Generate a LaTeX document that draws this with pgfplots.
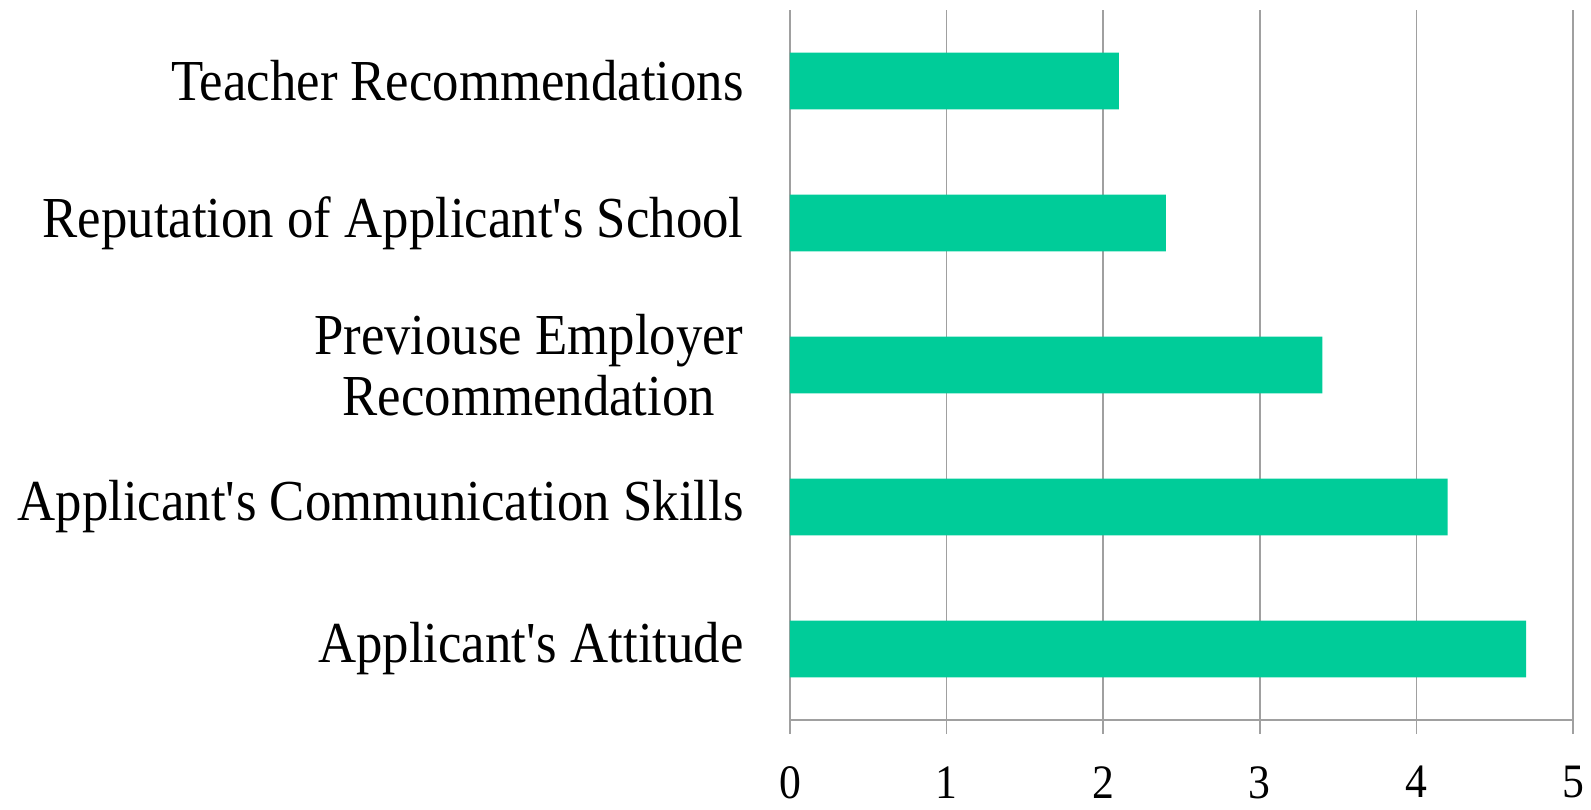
\documentclass[border=0pt]{standalone}
\usepackage{fontspec}
\setmainfont{Liberation Serif}[FakeStretch=0.91]
\usepackage{pgfplots}
\pgfplotsset{compat=1.18}
\definecolor{barc}{RGB}{0,204,153}
\definecolor{gridc}{RGB}{160,160,160}
\newcommand{\ap}{\textquotesingle}
\begin{document}
\begin{tikzpicture}
\begin{axis}[
  at={(0,0)}, anchor=south west,
  scale only axis,
  width=391.5pt, height=355pt,
  xmin=0, xmax=5, ymin=-0.5, ymax=4.5,
  xbar, bar width=0.4,
  axis lines*=left,
  axis line style={gridc, line width=0.8pt, -},
  xtick={0,1,2,3,4,5},
  xmajorgrids, grid style={gridc, line width=0.8pt},
  ytick={0,1,2,3,4},
  yticklabels={{Applicant\ap s Attitude},{Applicant\ap s Communication Skills},{Previouse Employer\\Recommendation},{Reputation of Applicant\ap s School},{Teacher Recommendations}},
  minor ytick={-0.5,0.5,1.5,2.5,3.5,4.5},
  tick align=outside,
  major tick length=7pt,
  minor tick length=7pt,
  ytick style={draw=none},
  yminorticks=true,
  minor tick style={gridc, line width=0.8pt},
  xtick style={gridc, line width=0.8pt},
  /pgf/number format/assume math mode=true,
  xticklabel style={font=\fontsize{24}{26}\selectfont, anchor=north, inner sep=0pt, yshift=-16pt},
  yticklabel style={font=\fontsize{29}{30.5}\selectfont, anchor=east, align=center, inner sep=0pt, xshift=-16pt},
]
\addplot[fill=barc, draw=none] coordinates {(4.7,0) (4.2,1) (3.4,2) (2.4,3) (2.1,4)};
\end{axis}
\pgfresetboundingbox
\path[use as bounding box] (-395pt,-44.5pt) rectangle (400.5pt,360pt);
\end{tikzpicture}
\end{document}
